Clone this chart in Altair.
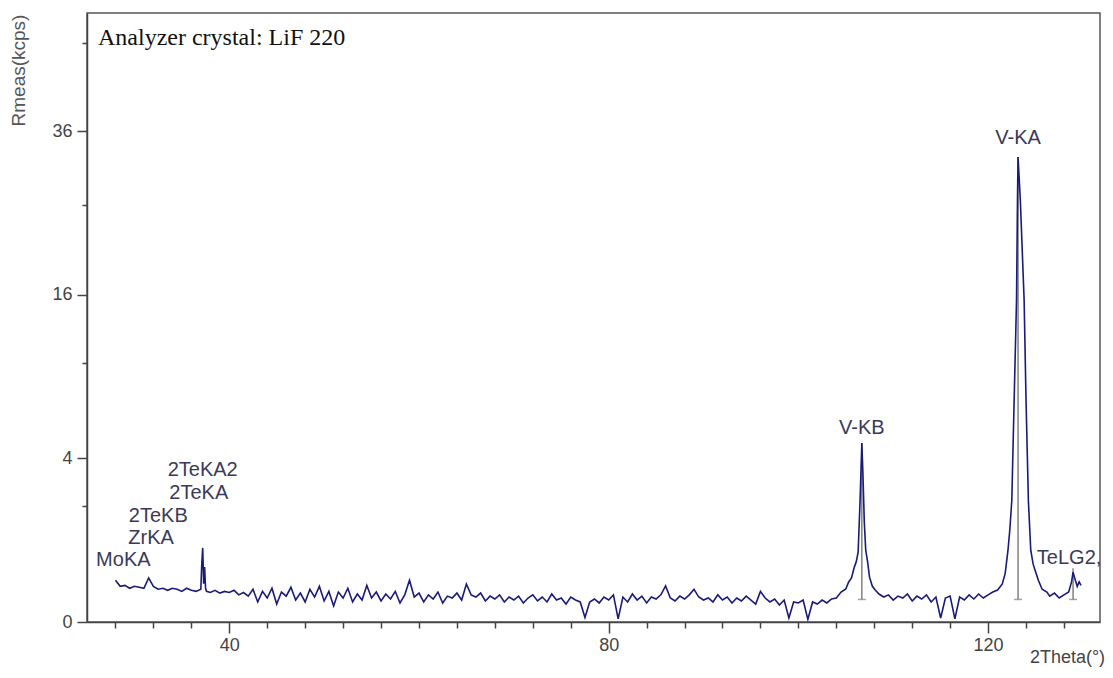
import altair as alt
import pandas as pd

# ---- spectrum (2Theta in degrees, Rmeas in kcps) ----
two_theta = [
    28.0, 28.5, 29.0, 29.5, 30.0, 30.5, 31.0, 31.5, 32.0, 32.5,
    33.0, 33.5, 34.0, 34.5, 35.0, 35.5, 36.0, 36.5, 37.0, 37.1,
    37.2, 37.3, 37.4, 37.5, 37.6, 38.0, 38.5, 39.0, 39.5, 40.0,
    40.5, 41.0, 41.5, 42.0, 42.5, 43.0, 43.5, 44.0, 44.5, 45.0,
    45.5, 46.0, 46.5, 47.0, 47.5, 48.0, 48.5, 49.0, 49.5, 50.0,
    50.5, 51.0, 51.5, 52.0, 52.5, 53.0, 53.5, 54.0, 54.5, 55.0,
    55.5, 56.0, 56.5, 57.0, 57.5, 58.0, 58.5, 59.0, 59.5, 60.0,
    60.5, 61.0, 61.5, 62.0, 62.5, 63.0, 63.5, 64.0, 64.5, 65.0,
    65.5, 66.0, 66.5, 67.0, 67.5, 68.0, 68.5, 69.0, 69.5, 70.0,
    70.5, 71.0, 71.5, 72.0, 72.5, 73.0, 73.5, 74.0, 74.5, 75.0,
    75.5, 76.0, 76.5, 77.0, 77.5, 78.0, 78.5, 79.0, 79.5, 80.0,
    80.5, 81.0, 81.5, 82.0, 82.5, 83.0, 83.5, 84.0, 84.5, 85.0,
    85.5, 86.0, 86.5, 87.0, 87.5, 88.0, 88.5, 89.0, 89.5, 90.0,
    90.5, 91.0, 91.5, 92.0, 92.5, 93.0, 93.5, 94.0, 94.5, 95.0,
    95.5, 96.0, 96.5, 97.0, 97.5, 98.0, 98.5, 99.0, 99.5, 100.0,
    100.5, 101.0, 101.5, 102.0, 102.5, 103.0, 103.5, 104.0, 104.5, 105.0,
    105.3, 105.6, 105.9, 106.1, 106.3, 106.5, 106.69, 106.8, 106.95, 107.1,
    107.3, 107.5, 107.8, 108.1, 108.5, 109.0, 109.5, 110.0, 110.5, 111.0,
    111.5, 112.0, 112.5, 113.0, 113.5, 114.0, 114.5, 115.0, 115.5, 116.0,
    116.5, 117.0, 117.5, 118.0, 118.5, 119.0, 119.5, 120.0, 120.5, 121.0,
    121.5, 121.8, 122.1, 122.3, 122.5, 122.75, 123.0, 123.1, 123.16, 123.4,
    123.8, 124.0, 124.25, 124.5, 124.75, 125.0, 125.3, 125.7, 126.2, 126.5,
    127.0, 127.5, 128.0, 128.5, 128.8, 128.96, 129.2, 129.4, 129.6, 129.8,
]
rmeas = [
    0.26, 0.19, 0.20, 0.17, 0.19, 0.18, 0.17, 0.29, 0.19, 0.16,
    0.17, 0.15, 0.17, 0.16, 0.14, 0.17, 0.15, 0.14, 0.16, 0.50,
    0.82, 0.22, 0.45, 0.17, 0.14, 0.13, 0.15, 0.125, 0.14, 0.13,
    0.15, 0.11, 0.13, 0.10, 0.16, 0.06, 0.14, 0.086, 0.17, 0.048,
    0.134, 0.10, 0.18, 0.072, 0.125, 0.06, 0.16, 0.093, 0.19, 0.066,
    0.14, 0.038, 0.134, 0.086, 0.17, 0.06, 0.117, 0.072, 0.20, 0.086,
    0.134, 0.066, 0.117, 0.079, 0.14, 0.054, 0.11, 0.26, 0.093, 0.125,
    0.06, 0.11, 0.079, 0.134, 0.054, 0.10, 0.086, 0.125, 0.072, 0.216,
    0.11, 0.093, 0.125, 0.066, 0.10, 0.079, 0.11, 0.06, 0.093, 0.072,
    0.10, 0.054, 0.086, 0.11, 0.066, 0.093, 0.06, 0.117, 0.072, 0.086,
    0.048, 0.093, 0.072, 0.06, 0.003, 0.06, 0.079, 0.054, 0.093, 0.072,
    0.11, 0.0015, 0.093, 0.06, 0.117, 0.072, 0.10, 0.054, 0.093, 0.079,
    0.11, 0.194, 0.086, 0.066, 0.10, 0.079, 0.11, 0.16, 0.093, 0.072,
    0.086, 0.06, 0.11, 0.072, 0.093, 0.054, 0.086, 0.066, 0.10, 0.072,
    0.048, 0.14, 0.086, 0.06, 0.079, 0.043, 0.072, 0.0024, 0.06, 0.054,
    0.072, 0.001, 0.06, 0.048, 0.072, 0.054, 0.079, 0.086, 0.134, 0.163,
    0.24, 0.29, 0.45, 0.54, 0.73, 2.15, 4.79, 3.36, 1.49, 0.77,
    0.54, 0.30, 0.19, 0.153, 0.117, 0.093, 0.11, 0.072, 0.10, 0.086,
    0.117, 0.066, 0.10, 0.079, 0.11, 0.06, 0.093, 0.0024, 0.086, 0.10,
    0.0015, 0.093, 0.072, 0.11, 0.079, 0.117, 0.086, 0.11, 0.134, 0.153,
    0.216, 0.35, 0.77, 1.3, 2.2, 7.4, 15.5, 26.6, 32.3, 26.6,
    15.5, 7.4, 2.2, 0.77, 0.5, 0.38, 0.26, 0.16, 0.134, 0.10,
    0.125, 0.086, 0.11, 0.134, 0.24, 0.37, 0.26, 0.19, 0.24, 0.20,
]

# ---- line identification labels ----
peak_names = ["MoKA", "ZrKA", "2TeKB", "2TeKA", "2TeKA2", "V-KB", "V-KA", "TeLG2,"]
peak_label_theta = [28.83, 31.76, 32.52, 36.79, 37.2, 106.69, 123.16, 128.54]
peak_label_rmeas = [0.583, 1.054, 1.694, 2.485, 3.43, 5.65, 35.06, 0.612]

# ---- peak marker lines ----
marker_theta = [106.69, 123.16, 128.96]
marker_top = [4.79, 32.3, 0.43]
marker_base = [0.076, 0.076, 0.076]

# ---- ticks ----
x_major_ticks = [40, 80, 120]
x_minor_ticks = [28, 32, 36, 44, 48, 52, 56, 60, 64, 68, 72, 76,
                 84, 88, 92, 96, 100, 104, 108, 112, 116, 124, 128]
y_major_ticks = [0, 4, 16, 36]
y_minor_ticks = [2, 10, 26, 50]

annotation_text = "Analyzer crystal: LiF 220"

SANS = "Liberation Sans"
AXIS_COLOR = "#444444"

x_scale = alt.Scale(domain=[25, 131.8], nice=False, zero=False)
y_scale = alt.Scale(type="sqrt", domain=[0, 55.4], nice=False)

spec_df = pd.DataFrame({"theta": two_theta, "rmeas": rmeas})
label_df = pd.DataFrame({"name": peak_names, "theta": peak_label_theta,
                         "rmeas": peak_label_rmeas})
marker_df = pd.DataFrame({"theta": marker_theta, "top": marker_top,
                          "base": marker_base})
note_df = pd.DataFrame({"t": [annotation_text]})

line = alt.Chart(spec_df).mark_line(color="#1a1a78", strokeWidth=1.6).encode(
    x=alt.X("theta:Q", scale=x_scale,
            axis=alt.Axis(values=x_major_ticks, orient="bottom", grid=False,
                          tickSize=11, tickWidth=1.5, tickColor=AXIS_COLOR,
                          domainColor=AXIS_COLOR, domainWidth=1.5,
                          labelPadding=3, labelFont=SANS, labelFontSize=18,
                          labelColor=AXIS_COLOR, format="d",
                          title="2Theta(°)", titleFont=SANS, titleFontSize=18,
                          titleFontWeight="normal", titleColor=AXIS_COLOR,
                          titleX=980, titleY=40, titleAlign="center",
                          titleBaseline="alphabetic")),
    y=alt.Y("rmeas:Q", scale=y_scale,
            axis=alt.Axis(values=y_major_ticks, orient="left", grid=False,
                          tickSize=10, tickWidth=1.5, tickColor=AXIS_COLOR,
                          domainColor=AXIS_COLOR, domainWidth=1.5,
                          labelPadding=5, labelFont=SANS, labelFontSize=18,
                          labelColor=AXIS_COLOR, format="d",
                          title="Rmeas(kcps)", titleFont=SANS, titleFontSize=19,
                          titleFontWeight="normal", titleColor="#555555",
                          titleX=-68.5, titleY=57, titleAngle=270,
                          titleAlign="center", titleBaseline="middle")),
)

markers = alt.Chart(marker_df).mark_rule(color="#808080", strokeWidth=1.5).encode(
    x=alt.X("theta:Q", scale=x_scale,
            axis=alt.Axis(values=x_minor_ticks, orient="bottom", grid=False,
                          tickSize=6, tickWidth=1.5, tickColor=AXIS_COLOR,
                          domain=False, labels=False, title=None)),
    y=alt.Y("base:Q", scale=y_scale,
            axis=alt.Axis(values=y_minor_ticks, orient="left", grid=False,
                          tickSize=5, tickWidth=1.5, tickColor=AXIS_COLOR,
                          domain=False, labels=False, title=None)),
    y2="top:Q",
)

marker_feet = alt.Chart(marker_df).mark_tick(
    color="#808080", orient="horizontal", size=8, thickness=1.5
).encode(
    x=alt.X("theta:Q", scale=x_scale, axis=None),
    y=alt.Y("base:Q", scale=y_scale, axis=None),
)

labels = alt.Chart(label_df).mark_text(
    font=SANS, fontSize=20, color="#3a3a58", align="center", baseline="middle"
).encode(
    x=alt.X("theta:Q", scale=x_scale, axis=None),
    y=alt.Y("rmeas:Q", scale=y_scale, axis=None),
    text="name:N",
)

note = alt.Chart(note_df).mark_text(
    font="Liberation Serif", fontSize=24, color="#111111",
    align="left", baseline="alphabetic"
).encode(x=alt.value(11), y=alt.value(32), text="t:N")

chart = alt.layer(markers, marker_feet, line, labels, note).resolve_axis(
    x="independent", y="independent"
).properties(
    width=1013, height=609,
    autosize=alt.AutoSizeParams(type="none"),
    padding={"left": 79, "top": 5, "right": 5, "bottom": 48},
    background="white",
).configure_view(stroke="#555555", strokeWidth=1.5)

chart.save("out.html", embed_options={"renderer": "svg", "actions": False})
